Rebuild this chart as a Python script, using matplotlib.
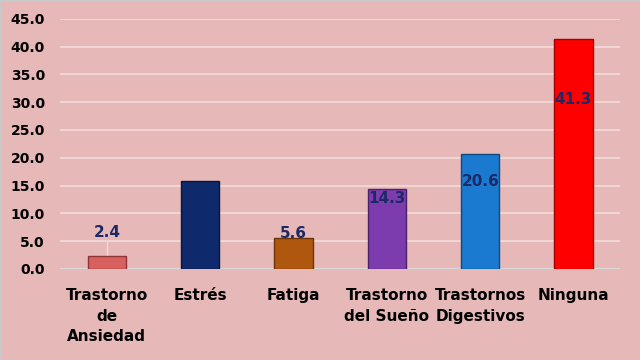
import matplotlib.pyplot as plt

categories = ['Trastorno\nde\nAnsiedad', 'Estrés', 'Fatiga', 'Trastorno\ndel Sueño',
              'Trastornos\nDigestivos', 'Ninguna']
values = [2.4, 15.9, 5.6, 14.3, 20.6, 41.3]
label_texts = ['2.4', '15.9', '5.6', '14.3', '20.6', '41.3']
label_y = [6.5, 13.0, 6.3, 12.6, 15.7, 30.4]
yticks = [0, 5, 10, 15, 20, 25, 30, 35, 40, 45]

bar_colors = ['#D8605E', '#0E2A6C', '#B0570F', '#7D3CAE', '#197AD0', '#FF0000']
edge_colors = ['#8E3634', '#06163C', '#6B3406', '#4A2068', '#0E4A80', '#A00000']
# the Estrés label is navy on a navy bar, so it hardly shows
label_colors = ['#1B2A66', '#0E2A6C', '#1B2A66', '#1B2A66', '#1B2A66', '#1B2A66']
bg = '#E6B8B7'

fig = plt.figure(figsize=(6.4, 3.6), dpi=100, facecolor=bg)
ax = fig.add_axes([0.094, 0.253, 0.875, 0.695])
ax.set_facecolor(bg)

x = range(len(categories))
ax.bar(x, values, width=0.41, color=bar_colors, edgecolor=edge_colors, linewidth=1.0, zorder=3)

# leader line for the small first label
ax.plot([0, 0], [values[0], label_y[0] - 1.6], color='#F2DCDB', linewidth=1, zorder=2)

for i, (t, ly, c) in enumerate(zip(label_texts, label_y, label_colors)):
    ax.text(i, ly, t, ha='center', va='center', fontsize=11, fontweight='bold',
            color=c, zorder=4)

ax.set_xlim(-0.5, 5.5)
ax.set_ylim(0, 45)
ax.set_yticks(yticks)
ax.set_yticklabels([f'{v:.1f}' for v in yticks], fontsize=10, fontweight='bold')
ax.set_xticks(list(x))
ax.set_xticklabels(categories, fontsize=11, fontweight='bold', linespacing=1.45, va='top')
ax.tick_params(axis='both', length=0)
ax.tick_params(axis='y', pad=11)
ax.tick_params(axis='x', pad=14)
ax.yaxis.grid(True, color='#F2DCDB', linewidth=1.2, zorder=0)
for s in ax.spines.values():
    s.set_visible(False)
ax.axhline(0, color='#D9D9D9', linewidth=1.5, zorder=2)

fig.patches.append(plt.Rectangle((0, 0), 1, 1, transform=fig.transFigure, fill=False,
                                 edgecolor='#C8C8C8', linewidth=2))

fig.savefig('out.png', dpi=100, facecolor=bg)
